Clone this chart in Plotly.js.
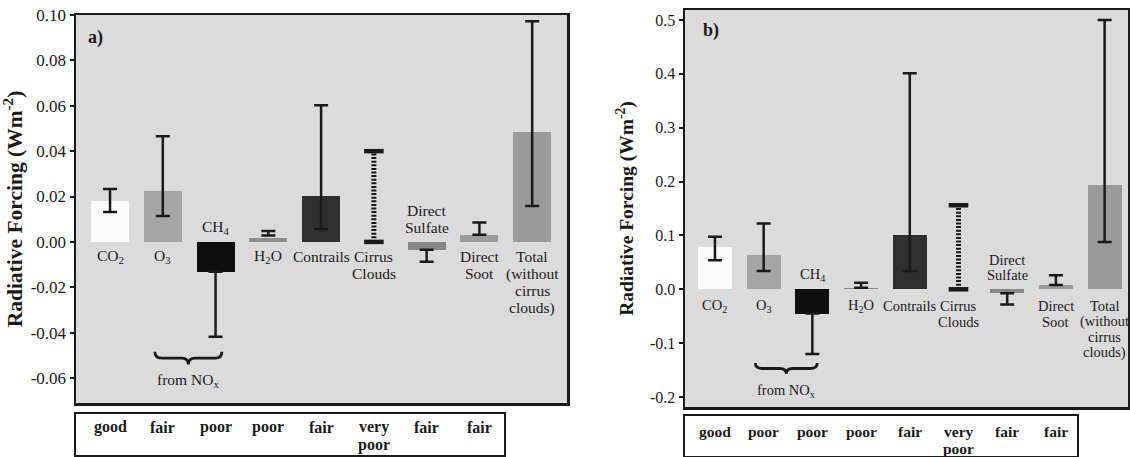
<!DOCTYPE html>
<html>
<head>
<meta charset="utf-8">
<script src="https://cdn.plot.ly/plotly-3.0.1.min.js"></script>
<style>html,body{margin:0;padding:0;background:#fff}#chart{width:1130px;height:457px}</style>
</head>
<body>
<div id="chart"></div>
<script>
// ---------- data ----------
const categories = ['CO2', 'O3', 'CH4', 'H2O', 'Contrails', 'Cirrus Clouds', 'Direct Sulfate', 'Direct Soot', 'Total (without cirrus clouds)'];
const categoryLabels = ['CO<sub>2</sub>', 'O<sub>3</sub>', 'CH<sub>4</sub>', 'H<sub>2</sub>O', 'Contrails', 'Cirrus<br>Clouds', 'Direct<br>Sulfate', 'Direct<br>Soot', 'Total<br>(without<br>cirrus<br>clouds)'];
const labelAbove = [false, false, true, false, false, false, true, false, false];

// panel a) 1992
const valuesA = [0.0181, 0.0225, -0.0132, 0.0017, 0.0204, null, -0.0035, 0.0031, 0.0483];
const lowA    = [0.0132, 0.0114, -0.0418, 0.0028, 0.0057, 0.0, -0.0087, 0.0031, 0.0158];
const highA   = [0.0233, 0.0466, -0.0132, 0.0048, 0.0602, 0.040, -0.0035, 0.0086, 0.0973];
const qualityA = ['good', 'fair', 'poor', 'poor', 'fair', 'very<br>poor', 'fair', 'fair'];
const tickValsA = [0.10, 0.08, 0.06, 0.04, 0.02, 0.00, -0.02, -0.04, -0.06];
const tickTextA = ['0.10', '0.08', '0.06', '0.04', '0.02', '0.00', '-0.02', '-0.04', '-0.06'];

// panel b) 2050
const valuesB = [0.078, 0.063, -0.045, 0.003, 0.100, null, -0.0074, 0.008, 0.193];
const lowB    = [0.054, 0.034, -0.120, 0.003, 0.034, 0.0, -0.028, 0.008, 0.088];
const highB   = [0.0975, 0.122, -0.045, 0.012, 0.401, 0.156, -0.0074, 0.026, 0.500];
const qualityB = ['good', 'poor', 'poor', 'poor', 'fair', 'very<br>poor', 'fair', 'fair'];
const tickValsB = [0.5, 0.4, 0.3, 0.2, 0.1, 0.0, -0.1, -0.2];
const tickTextB = ['0.5', '0.4', '0.3', '0.2', '0.1', '0.0', '-0.1', '-0.2'];

const barColors = ['#fbfbfb', '#a6a6a6', '#0e0e0e', '#8c8c8c', '#2f2f2f', 'rgba(0,0,0,0)', '#878787', '#9c9c9c', '#9a9a9a'];
const cirrusIndex = categories.indexOf('Cirrus Clouds');

// ---------- layout helpers ----------
const W = 1130, H = 457;
const FONT = 'Liberation Serif';
const ink = '#1a1a1a';
const px = v => v / W;
const py = v => 1 - v / H;
const idx = categories.map((c, i) => i);

function panelTraces(values, low, high, xa, ya, barWidth) {
  const traces = [];
  const barIdx = idx.filter(i => values[i] !== null);
  traces.push({
    type: 'bar', x: barIdx, y: barIdx.map(i => values[i]), xaxis: xa, yaxis: ya,
    width: barWidth, marker: {color: barIdx.map(i => barColors[i]), line: {width: 0}},
    hoverinfo: 'skip', showlegend: false
  });
  const errIdx = idx.filter(i => i !== cirrusIndex);
  traces.push({
    type: 'scatter', mode: 'markers', xaxis: xa, yaxis: ya,
    x: errIdx, y: errIdx.map(i => (low[i] + high[i]) / 2),
    marker: {size: 1, color: 'rgba(0,0,0,0)'},
    error_y: {type: 'data', symmetric: true, array: errIdx.map(i => (high[i] - low[i]) / 2),
              color: ink, thickness: 2.5, width: 7},
    hoverinfo: 'skip', showlegend: false
  });
  // cirrus clouds: hatched (ladder) range bar without a central value
  traces.push({
    type: 'scatter', mode: 'lines', xaxis: xa, yaxis: ya,
    x: [cirrusIndex, cirrusIndex], y: [low[cirrusIndex], high[cirrusIndex]],
    line: {color: ink, width: 5, dash: '2px,1.6px'}, hoverinfo: 'skip', showlegend: false
  });
  traces.push({
    type: 'scatter', mode: 'markers', xaxis: xa, yaxis: ya,
    x: [cirrusIndex, cirrusIndex], y: [low[cirrusIndex], high[cirrusIndex]],
    marker: {symbol: 'line-ew', size: 14, line: {color: ink, width: 4.5}},
    hoverinfo: 'skip', showlegend: false
  });
  return traces;
}

const data = [
  ...panelTraces(valuesA, lowA, highA, 'x', 'y', 0.72),
  ...panelTraces(valuesB, lowB, highB, 'x2', 'y2', 0.70)
];

function xAxis(domain, range) {
  return {domain, range, tickvals: [], showticklabels: false, ticks: '', showgrid: false, zeroline: false,
          showline: true, mirror: true, linecolor: ink, linewidth: 2.5, fixedrange: true};
}
function yAxis(domain, range, tv, tt, anchor, standoff, tickSize, titleSize) {
  return {domain, range, anchor, tickvals: tv, ticktext: tt, ticks: 'outside', ticklen: 4, tickwidth: 2,
          tickcolor: ink, showgrid: false, zeroline: false, showline: true, mirror: true,
          linecolor: ink, linewidth: 2.5,
          tickfont: {family: FONT, size: tickSize, color: ink},
          title: {text: 'Radiative Forcing (Wm<sup>-2</sup>)', standoff,
                  font: {family: FONT, size: titleSize, color: ink, weight: 'bold'}},
          fixedrange: true};
}

const annotations = [];
const shapes = [];

function panelDecor(xref, yref, quality, st) {
  // category labels, one annotation per text line for exact line spacing
  idx.forEach(i => {
    const lines = categoryLabels[i].split('<br>');
    const n = lines.length;
    lines.forEach((ln, k) => {
      const shift = labelAbove[i] ? st.aboveOff + (n - 1 - k) * st.gap : -(st.belowOff + k * st.gap);
      annotations.push({
        xref, yref, x: i, y: 0, text: ln, showarrow: false, yanchor: 'middle', yshift: shift,
        font: {family: FONT, size: st.labelSize, color: ink}
      });
    });
  });
  // quality-of-knowledge table
  const t = st.table;
  shapes.push({type: 'rect', xref: 'paper', yref: 'paper',
               x0: px(t.x0), x1: px(t.x1), y0: py(t.y1), y1: py(t.y0),
               line: {color: ink, width: 2}, fillcolor: 'rgba(0,0,0,0)'});
  quality.forEach((q, i) => {
    q.split('<br>').forEach((ln, k) => {
      annotations.push({xref, yref: 'paper', x: i, y: py(t.textMid + k * t.gap), yanchor: 'middle',
                        text: ln, showarrow: false,
                        font: {family: FONT, size: t.size, color: ink, weight: 'bold'}});
    });
  });
  // brace under the NOx-related terms
  const {x0, x1, yt, yb, dx} = st.brace;
  const xm = (x0 + x1) / 2, ym = (yt + yb) / 2;
  const path = `M${x0},${yt} Q${x0},${ym} ${x0 + dx},${ym} L${xm - dx},${ym} Q${xm},${ym} ${xm},${yb} ` +
               `Q${xm},${ym} ${xm + dx},${ym} L${x1 - dx},${ym} Q${x1},${ym} ${x1},${yt}`;
  shapes.push({type: 'path', xref, yref, path, line: {color: ink, width: 2.8}});
  annotations.push({xref, yref, x: xm, y: st.fromY, text: 'from NO<sub>x</sub>', showarrow: false,
                    font: {family: FONT, size: st.labelSize, color: ink}});
  annotations.push({xref: 'paper', yref: 'paper', x: px(st.letter[0]), y: py(st.letter[1]), xanchor: 'left',
                    yanchor: 'middle', text: st.letterText, showarrow: false,
                    font: {family: FONT, size: 18, color: ink, weight: 'bold'}});
}

panelDecor('x', 'y', qualityA, {
  labelSize: 15.5, gap: 17, aboveOff: 14, belowOff: 15,
  table: {x0: 75, x1: 505, y0: 413, y1: 456, textMid: 427, gap: 18, size: 16},
  brace: {x0: 0.85, x1: 2.12, yt: -0.0484, yb: -0.0540, dx: 0.13},
  fromY: -0.0612, letter: [86, 38], letterText: 'a)'
});
panelDecor('x2', 'y2', qualityB, {
  labelSize: 14.5, gap: 15.7, aboveOff: 14, belowOff: 16.5,
  table: {x0: 684, x1: 1078, y0: 415, y1: 457, textMid: 431, gap: 17, size: 15.5},
  brace: {x0: 0.83, x1: 2.10, yt: -0.137, yb: -0.157, dx: 0.13},
  fromY: -0.188, letter: [701, 30], letterText: 'b)'
});

const layout = {
  width: W, height: H, margin: {l: 0, r: 0, t: 0, b: 0},
  paper_bgcolor: '#ffffff', plot_bgcolor: '#dbdbdb',
  font: {family: FONT, color: ink},
  showlegend: false, bargap: 0,
  xaxis: xAxis([px(76), px(567)], [-0.645, 8.66]),
  yaxis: yAxis([py(403), py(15)], [-0.071, 0.100], tickValsA, tickTextA, 'x', 13, 17, 21.5),
  xaxis2: xAxis([px(685), px(1128)], [-0.615, 8.48]),
  yaxis2: yAxis([py(407), py(10)], [-0.2185, 0.5185], tickValsB, tickTextB, 'x2', 11, 16, 19.5),
  annotations, shapes
};
layout.xaxis2.anchor = 'y2';

Plotly.newPlot('chart', data, layout, {displayModeBar: false, staticPlot: true});
</script>
</body>
</html>
